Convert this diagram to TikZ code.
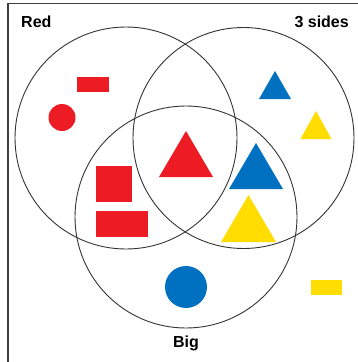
\documentclass[tikz,border=0pt]{standalone}
\usepackage{fontspec}
\setmainfont{Liberation Sans}
\definecolor{vred}{HTML}{ED1C24}
\definecolor{vblue}{HTML}{0070C0}
\definecolor{vyellow}{HTML}{FFDD00}
\definecolor{ring}{HTML}{333333}
\begin{document}
\begin{tikzpicture}[x=1pt,y=-1pt,
  setring/.style={draw=ring,line width=0.9pt},
  frameline/.style={draw=black!75,line width=1.2pt},
  setlabel/.style={font=\fontsize{16}{18}\selectfont\bfseries,inner sep=0pt,anchor=base}]
\useasboundingbox (0,0) rectangle (358,362);
\fill[white] (0,0) rectangle (358,362);
\draw[frameline] (8,362) -- (8,3.5) -- (358,3.5);
% sets
\draw[setring] (126,138) circle (111);
\draw[setring] (243.5,138) circle (110.5);
\draw[setring] (186,217) circle (111);
% labels
\node[setlabel,anchor=base west] (red) at (21,27) {Red};
\node[setlabel,anchor=base east] (sides) at (349,27) {3 sides};
\node[setlabel] (big) at (186,347) {Big};
% red only
\fill[vred] (77,77) rectangle (109,92);
\fill[vred] (62,117.5) circle (13.5);
% 3 sides only
\fill[vblue] (275,71) -- (291,99) -- (259,99) -- cycle;
\fill[vyellow] (316,111) -- (331.5,139) -- (300.5,139) -- cycle;
% red & big
\fill[vred] (96,166) rectangle (132,202);
\fill[vred] (96,211) rectangle (148,237);
% red & 3 sides & big
\fill[vred] (186,131) -- (213,177) -- (159,177) -- cycle;
% 3 sides & big
\fill[vblue] (256,143) -- (283,189) -- (229,189) -- cycle;
\fill[vyellow] (248.5,195) -- (276,242) -- (221,242) -- cycle;
% big only
\fill[vblue] (186,287) circle (21);
% none
\fill[vyellow] (311,280) rectangle (342,295);
\end{tikzpicture}
\end{document}
